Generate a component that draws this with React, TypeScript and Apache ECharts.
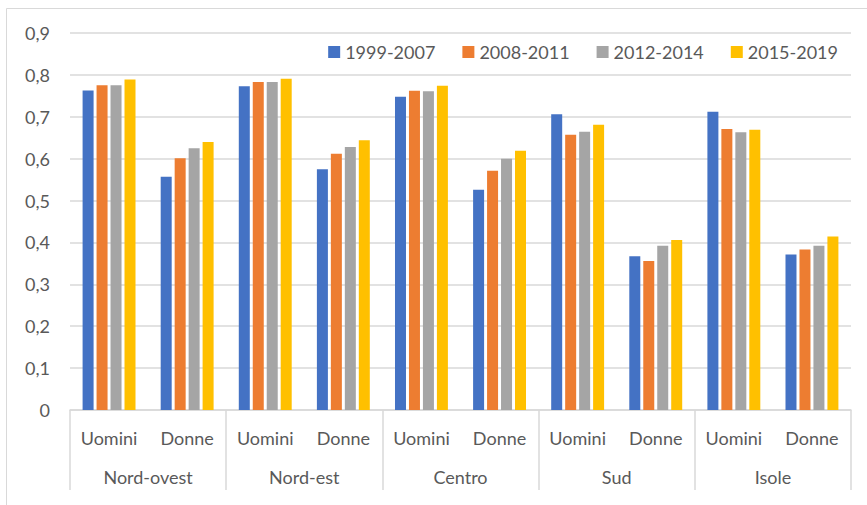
import React, { useEffect, useRef } from "react";
import * as echarts from "echarts";

const regions = ["Nord-ovest", "Nord-est", "Centro", "Sud", "Isole"];
const subCategories = ["Uomini", "Donne", "Uomini", "Donne", "Uomini", "Donne", "Uomini", "Donne", "Uomini", "Donne"];
const seriesNames = ["1999-2007", "2008-2011", "2012-2014", "2015-2019"];
const s1999_2007 = [0.763, 0.557, 0.773, 0.575, 0.748, 0.526, 0.706, 0.367, 0.712, 0.371];
const s2008_2011 = [0.775, 0.601, 0.783, 0.612, 0.762, 0.571, 0.657, 0.356, 0.671, 0.383];
const s2012_2014 = [0.775, 0.625, 0.783, 0.628, 0.761, 0.600, 0.664, 0.392, 0.663, 0.392];
const s2015_2019 = [0.789, 0.640, 0.791, 0.644, 0.774, 0.619, 0.681, 0.406, 0.669, 0.414];
const colors = ["#4472C4", "#ED7D31", "#A5A5A5", "#FFC000"];

export default function App() {
  const ref = useRef<HTMLDivElement>(null);
  useEffect(() => {
    if (!ref.current) return;
    const chart = echarts.init(ref.current, null, { renderer: "svg" });
    const font = "Lato, 'Open Sans', sans-serif";
    const txt = "#595959";
    const grid = "#d9d9d9";
    const allData = [s1999_2007, s2008_2011, s2012_2014, s2015_2019];
    chart.setOption({
      animation: false,
      backgroundColor: "#ffffff",
      textStyle: { fontFamily: font },
      graphic: [
        {
          type: "rect",
          shape: { x: 6.5, y: 8.5, width: 1000, height: 1000 },
          style: { fill: "none", stroke: grid, lineWidth: 1 },
          silent: true,
          z: -1,
        },
      ],
      legend: {
        data: seriesNames,
        right: 24,
        top: 38,
        itemWidth: 12,
        itemHeight: 12,
        itemGap: 27,
        icon: "rect",
        textStyle: { color: txt, fontSize: 18, fontFamily: font },
      },
      grid: { left: 70, right: 16, top: 33, bottom: 95 },
      xAxis: [
        {
          type: "category",
          data: subCategories,
          axisLine: { lineStyle: { color: grid, width: 1.5 } },
          axisTick: { show: false },
          axisLabel: { color: txt, fontSize: 18, margin: 19, fontFamily: font, interval: 0 },
        },
        {
          type: "category",
          data: regions,
          position: "bottom",
          axisLine: { show: false },
          axisTick: { show: true, length: 80, lineStyle: { color: grid, width: 1.5 } },
          axisLabel: { color: txt, fontSize: 18, margin: 58, fontFamily: font, interval: 0 },
        },
      ],
      yAxis: {
        type: "value",
        min: 0,
        max: 0.9,
        interval: 0.1,
        axisLine: { show: false },
        axisTick: { show: false },
        splitLine: { lineStyle: { color: grid, width: 1.5 } },
        axisLabel: {
          color: txt,
          fontSize: 18,
          margin: 20,
          fontFamily: font,
          formatter: (v: number) => (Math.round(v * 10) / 10).toString().replace(".", ","),
        },
      },
      series: seriesNames.map((name, i) => ({
        name,
        type: "bar",
        xAxisIndex: 0,
        data: allData[i],
        barWidth: 11,
        barGap: "27%",
        itemStyle: { color: colors[i] },
      })),
    });
    return () => chart.dispose();
  }, []);
  return <div ref={ref} style={{ position: "absolute", left: 0, top: 0, width: 867, height: 505 }} />;
}
